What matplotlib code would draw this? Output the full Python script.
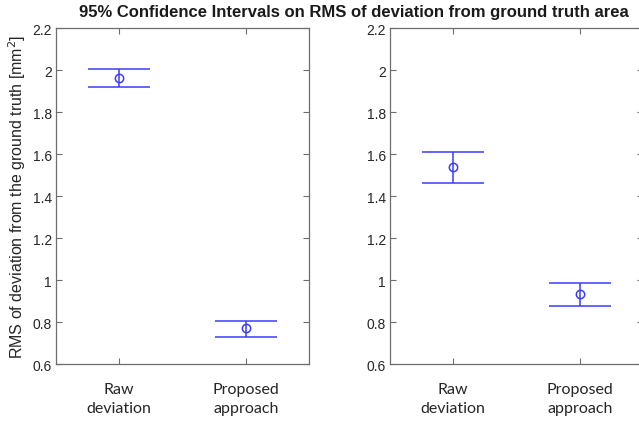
import matplotlib.pyplot as plt

# =========================================================
# DATA
# =========================================================

categories = ["Raw\ndeviation", "Proposed\napproach"]

left_mean = [1.961, 0.771]
left_low = [1.919, 0.732]
left_high = [2.007, 0.806]

right_mean = [1.537, 0.934]
right_low = [1.461, 0.879]
right_high = [1.611, 0.987]

# =========================================================
# DRAW
# =========================================================

fig = plt.figure(figsize=(6.39, 4.27), dpi=100)

ax1 = fig.add_axes([0.0876, 0.1443, 0.396, 0.7877])
ax2 = fig.add_axes([0.6103, 0.1443, 0.396, 0.7877])

blue = "#3c3cff"
spine_col = "#6e6e6e"


def draw_panel(ax, mean, low, high):
    x = list(range(1, len(mean) + 1))
    yerr = [[m - l for m, l in zip(mean, low)], [h - m for m, h in zip(mean, high)]]
    ax.errorbar(
        x, mean, yerr=yerr,
        fmt="o", color=blue, mfc="none", mec=blue,
        markersize=6, mew=1.1, elinewidth=1.1,
        capsize=22.5, capthick=1.1
    )
    ax.set_xlim(0.5, 2.5)
    ax.set_ylim(0.6, 2.2)
    ax.set_yticks([0.6, 0.8, 1.0, 1.2, 1.4, 1.6, 1.8, 2.0, 2.2])
    ax.set_yticklabels(["0.6", "0.8", "1", "1.2", "1.4", "1.6", "1.8", "2", "2.2"],
                       fontfamily="Liberation Sans", fontsize=10, color="#262626")
    ax.set_xticks(x)
    ax.set_xticklabels(categories, fontfamily="Lato", fontsize=11.5, color="#262626",
                       linespacing=1.45)
    ax.tick_params(direction="in", top=True, right=True, length=4,
                   color=spine_col, width=0.8)
    ax.tick_params(axis="x", pad=12.5)
    ax.tick_params(axis="y", pad=3)
    for s in ax.spines.values():
        s.set_color(spine_col)
        s.set_linewidth(0.9)


draw_panel(ax1, left_mean, left_low, left_high)
draw_panel(ax2, right_mean, right_low, right_high)

ax1.set_ylabel("RMS of deviation from the ground truth [mm$^2$]",
               fontfamily="Liberation Sans", fontsize=11.5, color="#262626", labelpad=3)

fig.text(0.554, 0.970, "95% Confidence Intervals on RMS of deviation from ground truth area",
         ha="center", va="center", fontsize=12, fontweight="bold",
         fontfamily="Liberation Sans", color="#1a1a1a")

fig.savefig("out.png", dpi=100)
